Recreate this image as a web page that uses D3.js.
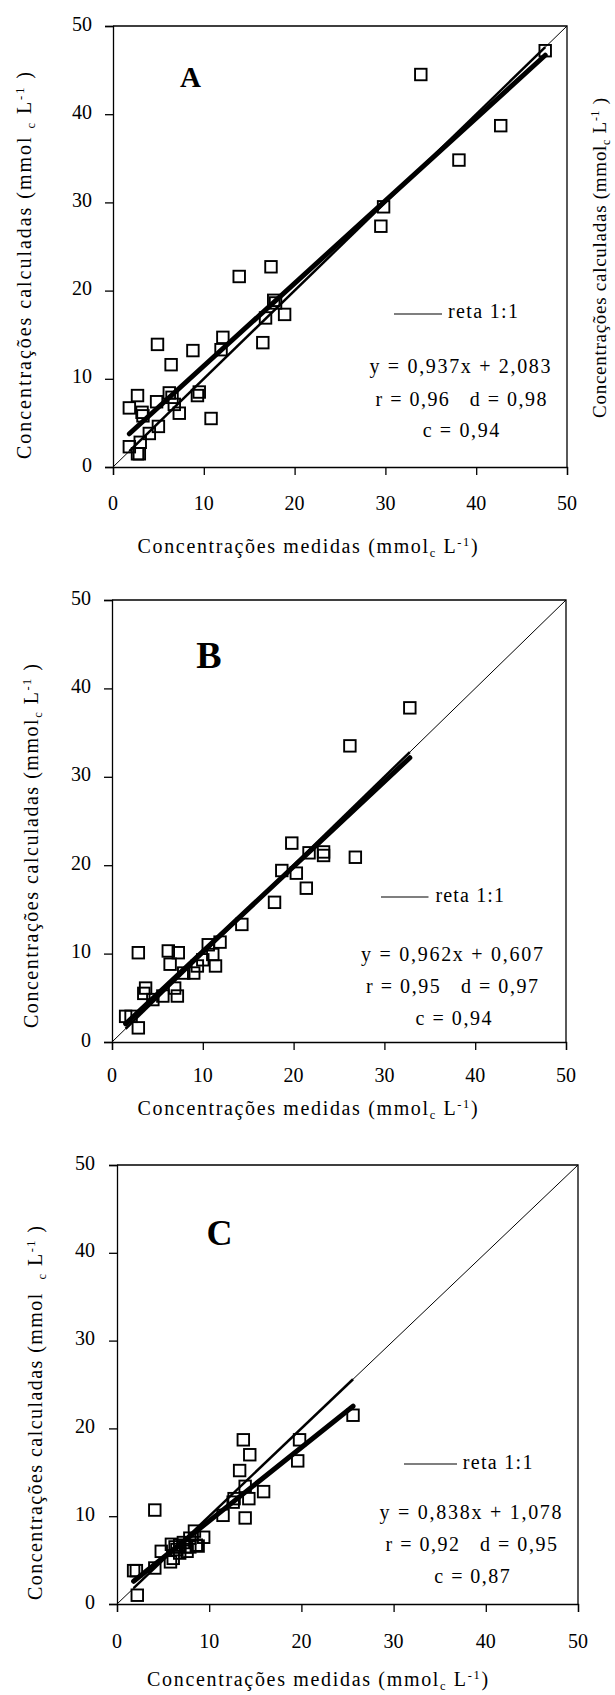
<!DOCTYPE html>
<html><head><meta charset="utf-8">
<script src="https://cdn.jsdelivr.net/npm/d3@7"></script>
<style>
body{margin:0;background:#fff}
svg{display:block}
text{font-family:"Liberation Serif","Times New Roman",serif;fill:#000;white-space:pre}
</style>
</head><body>
<svg id="chart" width="615" height="1695"></svg>
<script>
// ---------- data ----------
const tickValues = [0, 10, 20, 30, 40, 50];
const panelLetters = ["A", "B", "C"];

const measuredA = [47.6, 33.9, 42.7, 38.1, 29.8, 29.5, 13.9, 17.4, 17.7, 17.9, 18.9, 16.8, 16.5, 12.1, 11.9, 8.8, 4.9, 6.4, 9.5, 9.3, 10.8, 6.2, 6.5, 6.75, 7.3, 4.8, 2.7, 1.8, 3.2, 3.3, 5.0, 4.0, 1.8, 3.0, 2.7, 2.9];
const calculatedA = [47.2, 44.5, 38.7, 34.8, 29.5, 27.3, 21.6, 22.7, 18.9, 18.6, 17.3, 16.9, 14.1, 14.7, 13.3, 13.2, 13.9, 11.6, 8.5, 8.1, 5.5, 8.4, 7.9, 7.1, 6.1, 7.4, 8.1, 6.7, 6.2, 5.8, 4.6, 3.8, 2.3, 2.8, 1.5, 1.5];

const measuredB = [32.8, 26.2, 26.8, 23.3, 23.3, 21.7, 19.8, 21.4, 20.3, 18.7, 17.9, 14.3, 11.9, 10.6, 11.1, 11.4, 10.0, 9.4, 9.0, 7.9, 7.3, 6.2, 6.4, 2.9, 3.7, 3.5, 4.5, 5.6, 6.9, 7.2, 1.5, 2.1, 2.9];
const calculatedB = [37.8, 33.5, 20.9, 21.1, 21.5, 21.4, 22.5, 17.4, 19.1, 19.4, 15.8, 13.3, 11.3, 11.0, 9.9, 8.6, 9.3, 8.6, 7.8, 7.8, 10.1, 10.3, 8.8, 10.1, 6.1, 5.5, 4.8, 5.2, 6.1, 5.2, 2.9, 2.9, 1.6];

const measuredC = [25.6, 19.8, 19.6, 13.7, 14.4, 13.3, 15.9, 13.9, 14.3, 12.7, 12.6, 13.9, 11.5, 9.4, 8.4, 8.6, 7.9, 4.1, 4.8, 4.1, 1.8, 2.1, 2.2, 5.9, 6.3, 6.8, 7.4, 5.8, 6.1, 6.8, 7.6, 7.9, 8.8, 6.5, 7.2];
const calculatedC = [21.5, 18.7, 16.3, 18.7, 17.0, 15.2, 12.8, 13.4, 12.0, 12.0, 11.6, 9.8, 10.1, 7.6, 8.3, 6.7, 7.5, 10.7, 6.0, 4.1, 3.8, 3.8, 1.0, 6.8, 6.5, 6.7, 6.5, 4.8, 5.2, 5.8, 6.0, 6.5, 6.6, 6.2, 7.0];

const slopes = [0.937, 0.962, 0.838];
const intercepts = [2.083, 0.607, 1.078];
const equationLabels = ["y = 0,937x + 2,083", "y = 0,962x + 0,607", "y = 0,838x + 1,078"];
const statLabels = ["r = 0,96   d = 0,98", "r = 0,95   d = 0,97", "r = 0,92   d = 0,95"];
const cLabels = ["c = 0,94", "c = 0,94", "c = 0,87"];
const legendLabel = "reta 1:1";
const xTitleParts = [["Concentrações medidas (mmol", 0], ["c", -1], [" L", 0], ["-1", 1], [")", 0]];
const yTitlePartsA = [["Concentrações calculadas (mmol ", 0], ["c", -1], [" L", 0], ["-1", 1], [" )", 0]];
const yTitlePartsB = [["Concentrações calculadas (mmol", 0], ["c", -1], [" L", 0], ["-1", 1], [" )", 0]];
const yTitlePartsC = [["Concentrações calculadas (mmol  ", 0], ["c", -1], [" L", 0], ["-1", 1], [" )", 0]];

// ---------- layout ----------
const layout = [
  {l:113, r:567, t:26, b:467, yLabX:92, xLabBase:510, xTitle:[307.6, 553, 340], yTitle:[31, 265.5, 387],
   letter:[190.5, 87, 29], leg:[394, 442, 314, 448, 318, 70], eq:[460, 373, 181], st:[461, 405.5, 171], c:[461, 437, 76.6]},
  {l:112, r:566, t:600, b:1042, yLabX:91, xLabBase:1082, xTitle:[307.6, 1115, 340], yTitle:[38, 846, 364],
   letter:[209, 668, 38], leg:[381, 428.5, 897, 435.5, 902, 68.5], eq:[452, 961, 182], st:[452, 993, 172], c:[453.5, 1024.8, 76]},
  {l:117, r:578, t:1165, b:1604, yLabX:95, xLabBase:1648, xTitle:[317.6, 1686, 341], yTitle:[42, 1413, 374],
   letter:[219.5, 1245, 36], leg:[404, 457, 1464, 462.7, 1469, 69.8], eq:[470.6, 1519, 182], st:[471.2, 1550.9, 171.4], c:[472, 1583, 75.3]}
];

const svg = d3.select("#chart");

function richText(sel, parts, fs) {
  let shift = 0;
  parts.forEach(([t, kind]) => {
    const target = kind === -1 ? 4 : kind === 1 ? -7 : 0;
    sel.append("tspan")
      .attr("dy", target - shift)
      .attr("font-size", kind === 0 ? fs : fs * 0.62)
      .text(t);
    shift = target;
  });
}

const datasets = [
  [measuredA, calculatedA, yTitlePartsA],
  [measuredB, calculatedB, yTitlePartsB],
  [measuredC, calculatedC, yTitlePartsC]
];

datasets.forEach(([xs, ys, yParts], i) => {
  const L = layout[i];
  const x = d3.scaleLinear().domain([0, 50]).range([L.l, L.r]);
  const y = d3.scaleLinear().domain([0, 50]).range([L.b, L.t]);
  const g = svg.append("g");

  g.append("path")
    .attr("d", `M${x(0)},${y(50)}H${x(50)}V${y(0)}`)
    .attr("fill", "none").attr("stroke", "#000").attr("stroke-width", 1.3);

  const xa = g.append("g").attr("transform", `translate(0,${y(0)})`)
    .call(d3.axisBottom(x).tickValues(tickValues).tickSize(8).tickFormat(""));
  const ya = g.append("g").attr("transform", `translate(${x(0)},0)`)
    .call(d3.axisLeft(y).tickValues(tickValues).tickSize(8).tickFormat(""));
  [xa, ya].forEach(a => {
    a.select(".domain").attr("stroke", "#000").attr("stroke-width", 1.3);
    a.selectAll(".tick line").attr("stroke", "#000").attr("stroke-width", 1.3);
  });

  g.selectAll(".xl").data(tickValues).enter().append("text")
    .attr("x", d => x(d)).attr("y", L.xLabBase)
    .attr("text-anchor", "middle").attr("font-size", 20).text(d => d);
  g.selectAll(".yl").data(tickValues).enter().append("text")
    .attr("x", L.yLabX).attr("y", d => y(d) + 4.5)
    .attr("text-anchor", "end").attr("font-size", 20).text(d => d);

  g.append("line")
    .attr("x1", x(0)).attr("y1", y(0)).attr("x2", x(50)).attr("y2", y(50))
    .attr("stroke", "#000").attr("stroke-width", 1);
  const [mn, mx] = d3.extent(xs);
  g.append("line")
    .attr("x1", x(mn)).attr("y1", y(mn)).attr("x2", x(mx)).attr("y2", y(mx))
    .attr("stroke", "#000").attr("stroke-width", 2.5);

  const f = v => slopes[i] * v + intercepts[i];
  g.append("line")
    .attr("x1", x(mn)).attr("y1", y(f(mn))).attr("x2", x(mx)).attr("y2", y(f(mx)))
    .attr("stroke", "#000").attr("stroke-width", 5).attr("stroke-linecap", "round");

  const s = 11.5;
  g.selectAll(".pt").data(xs.map((v, k) => [v, ys[k]])).enter().append("rect")
    .attr("x", d => x(d[0]) - s / 2).attr("y", d => y(d[1]) - s / 2)
    .attr("width", s).attr("height", s)
    .attr("fill", "none").attr("stroke", "#000").attr("stroke-width", 1.9);

  g.append("text").attr("x", L.letter[0]).attr("y", L.letter[1])
    .attr("text-anchor", "middle").attr("font-weight", "bold")
    .attr("font-size", L.letter[2]).text(panelLetters[i]);

  g.append("line").attr("x1", L.leg[0]).attr("x2", L.leg[1])
    .attr("y1", L.leg[2]).attr("y2", L.leg[2]).attr("stroke", "#000").attr("stroke-width", 1.2);
  g.append("text").attr("x", L.leg[3]).attr("y", L.leg[4]).attr("font-size", 20)
    .attr("textLength", L.leg[5]).attr("lengthAdjust", "spacing").text(legendLabel);

  [[equationLabels[i], L.eq], [statLabels[i], L.st], [cLabels[i], L.c]].forEach(([t, p]) => {
    g.append("text").attr("x", p[0]).attr("y", p[1]).attr("text-anchor", "middle")
      .attr("font-size", 20).attr("textLength", p[2]).attr("lengthAdjust", "spacing").text(t);
  });

  const xt = g.append("text").attr("x", L.xTitle[0]).attr("y", L.xTitle[1])
    .attr("text-anchor", "middle").attr("font-size", 20)
    .attr("textLength", L.xTitle[2]).attr("lengthAdjust", "spacing");
  richText(xt, xTitleParts, 20);

  const yt = g.append("text")
    .attr("transform", `translate(${L.yTitle[0]},${L.yTitle[1]}) rotate(-90)`)
    .attr("text-anchor", "middle").attr("font-size", 20)
    .attr("textLength", L.yTitle[2]).attr("lengthAdjust", "spacing");
  richText(yt, yParts, 20);
});

// partial title of the neighbouring figure at the right edge
const rt = svg.append("text")
  .attr("transform", "translate(606,258) rotate(-90)")
  .attr("text-anchor", "middle").attr("font-size", 19)
  .attr("textLength", 320).attr("lengthAdjust", "spacing");
richText(rt, yTitlePartsB, 19);
</script>
</body></html>
